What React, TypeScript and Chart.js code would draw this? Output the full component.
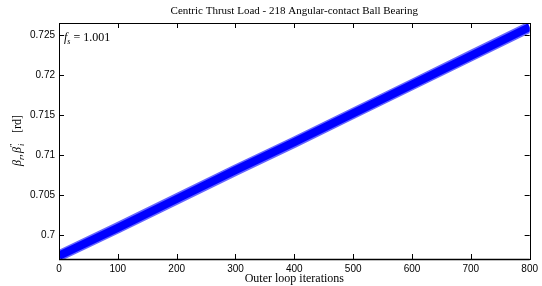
import React, { useEffect, useRef } from "react";
import { Chart, registerables } from "chart.js";

Chart.register(...registerables);

const iterations = [0, 100, 200, 300, 400, 500, 600, 700, 800];
const betaValues = [0.6974, 0.7009, 0.7045, 0.7081, 0.7116, 0.7152, 0.7188, 0.7224, 0.7260];
const yTickValues = [0.7, 0.705, 0.71, 0.715, 0.72, 0.725];
const xTickValues = [0, 100, 200, 300, 400, 500, 600, 700, 800];
const chartTitle = "Centric Thrust Load - 218 Angular-contact Ball Bearing";
const xAxisTitle = "Outer loop iterations";
const fsValue = "= 1.001";

const SERIF = "'Liberation Serif', 'Times New Roman', serif";
const SANS = "'Liberation Sans', Arial, sans-serif";

const decorPlugin = {
  id: "decor",
  afterDraw(chart: any) {
    const ctx = chart.ctx as CanvasRenderingContext2D;
    const a = chart.chartArea;
    const xs = chart.scales.x;
    const ys = chart.scales.y;
    ctx.save();
    ctx.strokeStyle = "#000";
    ctx.lineWidth = 1;
    ctx.strokeRect(Math.round(a.left) + 0.5, Math.round(a.top) + 0.5, Math.round(a.right - a.left), Math.round(a.bottom - a.top));
    ctx.lineWidth = 1.6;
    ctx.beginPath();
    ctx.moveTo(a.left, a.bottom + 0.5);
    ctx.lineTo(a.right, a.bottom + 0.5);
    ctx.stroke();
    ctx.lineWidth = 1;
    const tl = 5;
    ctx.beginPath();
    for (const v of xTickValues) {
      const px = Math.round(xs.getPixelForValue(v)) + 0.5;
      ctx.moveTo(px, a.bottom);
      ctx.lineTo(px, a.bottom - tl);
      ctx.moveTo(px, a.top);
      ctx.lineTo(px, a.top + tl);
    }
    for (const v of yTickValues) {
      const py = Math.round(ys.getPixelForValue(v)) + 0.5;
      ctx.moveTo(a.left, py);
      ctx.lineTo(a.left + tl, py);
      ctx.moveTo(a.right, py);
      ctx.lineTo(a.right - tl, py);
    }
    ctx.stroke();

    const cx = (a.left + a.right) / 2;
    ctx.fillStyle = "#000";
    ctx.textAlign = "center";
    ctx.textBaseline = "middle";
    ctx.font = `11px ${SERIF}`;
    ctx.fillText(chartTitle, cx, 11);
    ctx.font = `12px ${SERIF}`;
    ctx.fillText(xAxisTitle, cx, 279);

    // f_s annotation
    ctx.textAlign = "left";
    ctx.textBaseline = "alphabetic";
    let x = 64;
    const base = 41;
    ctx.font = `italic 12px ${SERIF}`;
    ctx.fillText("f", x, base);
    x += ctx.measureText("f").width;
    ctx.font = `italic 8px ${SERIF}`;
    ctx.fillText("s", x, base + 3);
    x += ctx.measureText("s").width + 3;
    ctx.font = `12px ${SERIF}`;
    ctx.fillText(fsValue, x, base);

    // y-axis title, rotated
    ctx.save();
    ctx.translate(21, 166);
    ctx.rotate(-Math.PI / 2);
    let p = 0;
    ctx.font = `italic 12px ${SERIF}`;
    ctx.fillText("\u03B2", p, 0);
    p += ctx.measureText("\u03B2").width;
    ctx.font = `italic 8px ${SERIF}`;
    ctx.fillText("r", p, 3);
    p += ctx.measureText("r").width;
    ctx.font = `12px ${SERIF}`;
    ctx.fillText(",", p, 0);
    p += ctx.measureText(",").width + 1;
    ctx.font = `italic 12px ${SERIF}`;
    ctx.fillText("\u03B2", p, 0);
    p += ctx.measureText("\u03B2").width;
    ctx.font = `8px ${SERIF}`;
    ctx.fillText("\u2033", p, -5);
    ctx.font = `italic 8px ${SERIF}`;
    ctx.fillText("i", p + 1, 3);
    p += 8;
    ctx.font = `12px ${SERIF}`;
    ctx.fillText("  [rd]", p, 0);
    ctx.restore();

    ctx.restore();
  },
};

export default function App() {
  const ref = useRef<HTMLCanvasElement | null>(null);
  useEffect(() => {
    if (!ref.current) return;
    const chart = new Chart(ref.current, {
      type: "line",
      data: {
        datasets: [
          {
            data: iterations.map((v, i) => ({ x: v, y: betaValues[i] })),
            borderColor: "rgba(0,0,255,0.6)",
            borderWidth: 11,
            pointRadius: 0,
            tension: 0,
          },
          {
            data: iterations.map((v, i) => ({ x: v, y: betaValues[i] })),
            borderColor: "#0000ff",
            borderWidth: 8,
            pointRadius: 0,
            tension: 0,
          },
        ],
      },
      options: {
        responsive: false,
        animation: false,
        layout: { padding: { left: 0, right: 3, top: 23, bottom: 0 } },
        plugins: { legend: { display: false }, tooltip: { enabled: false }, title: { display: false } },
        scales: {
          x: {
            type: "linear",
            min: 0,
            max: 800,
            afterBuildTicks: (s: any) => {
              s.ticks = xTickValues.map((v) => ({ value: v }));
            },
            afterFit: (s: any) => {
              s.height = 27;
            },
            grid: { display: false, drawTicks: false },
            border: { display: false },
            ticks: {
              color: "#000",
              font: { family: SANS, size: 10 },
              padding: 4,
              maxRotation: 0,
              autoSkip: false,
              callback: (v: any) => String(v),
            },
          },
          y: {
            type: "linear",
            min: 0.697,
            max: 0.7265,
            afterBuildTicks: (s: any) => {
              s.ticks = yTickValues.map((v) => ({ value: v }));
            },
            afterFit: (s: any) => {
              s.width = 59;
            },
            grid: { display: false, drawTicks: false },
            border: { display: false },
            ticks: {
              color: "#000",
              font: { family: SANS, size: 10 },
              padding: 4,
              autoSkip: false,
              callback: (v: any) => String(Number(v)),
            },
          },
        },
      },
      plugins: [decorPlugin],
    });
    return () => chart.destroy();
  }, []);
  return (
    <div style={{ position: "fixed", left: 0, top: 0, width: 542, height: 286, background: "#fff" }}>
      <canvas ref={ref} width={542} height={286} style={{ display: "block" }} />
    </div>
  );
}
